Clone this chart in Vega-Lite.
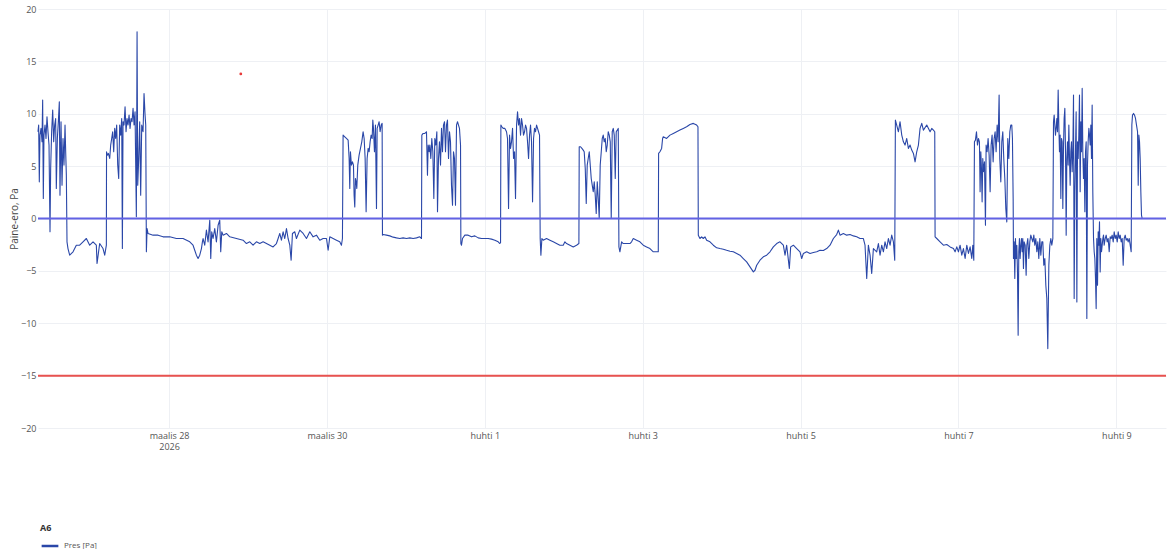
{
  "$schema": "https://vega.github.io/schema/vega-lite/v6.json",
  "width": 1128,
  "height": 419,
  "autosize": {"type": "none"},
  "padding": {"left": 38, "top": 9, "right": 7, "bottom": 121},
  "background": "white",
  "config": {
    "view": {"stroke": null},
    "font": "Open Sans"
  },
  "layer": [
    {
      "data": {"values": [
        {"t":"2026-03-26T08:10Z","v":8.28},{"t":"2026-03-26T08:22Z","v":8.92},{"t":"2026-03-26T08:34Z","v":3.5},{"t":"2026-03-26T08:46Z","v":7.96},{"t":"2026-03-26T09:05Z","v":8.6},{"t":"2026-03-26T09:23Z","v":7.32},{"t":"2026-03-26T09:35Z","v":11.31},{"t":"2026-03-26T09:47Z","v":1.91},{"t":"2026-03-26T09:59Z","v":7.96},{"t":"2026-03-26T10:18Z","v":8.92},{"t":"2026-03-26T10:36Z","v":7.64},{"t":"2026-03-26T10:54Z","v":9.71},{"t":"2026-03-26T11:12Z","v":8.28},{"t":"2026-03-26T11:31Z","v":7.01},{"t":"2026-03-26T11:49Z","v":-1.27},{"t":"2026-03-26T12:01Z","v":4.78},{"t":"2026-03-26T12:19Z","v":8.28},{"t":"2026-03-26T12:38Z","v":10.35},{"t":"2026-03-26T12:56Z","v":7.32},{"t":"2026-03-26T13:14Z","v":8.92},{"t":"2026-03-26T13:32Z","v":9.55},{"t":"2026-03-26T13:44Z","v":2.87},{"t":"2026-03-26T14:03Z","v":7.64},{"t":"2026-03-26T14:21Z","v":9.24},{"t":"2026-03-26T14:39Z","v":11.15},{"t":"2026-03-26T14:51Z","v":2.23},{"t":"2026-03-26T15:10Z","v":9.24},{"t":"2026-03-26T15:28Z","v":3.18},{"t":"2026-03-26T15:46Z","v":7.64},{"t":"2026-03-26T16:04Z","v":5.1},{"t":"2026-03-26T16:23Z","v":8.92},{"t":"2026-03-26T16:35Z","v":6.37},{"t":"2026-03-26T16:47Z","v":4.14},{"t":"2026-03-26T16:59Z","v":-2.23},
        {"t":"2026-03-26T17:17Z","v":-2.87},{"t":"2026-03-26T17:48Z","v":-3.5},{"t":"2026-03-26T18:49Z","v":-3.18},{"t":"2026-03-26T19:49Z","v":-2.55},{"t":"2026-03-26T20:50Z","v":-2.55},{"t":"2026-03-26T21:51Z","v":-2.23},{"t":"2026-03-26T22:52Z","v":-1.91},{"t":"2026-03-26T23:53Z","v":-2.55},{"t":"2026-03-27T00:54Z","v":-2.23},{"t":"2026-03-27T01:54Z","v":-2.55},{"t":"2026-03-27T02:07Z","v":-4.3},{"t":"2026-03-27T02:55Z","v":-2.39},{"t":"2026-03-27T03:56Z","v":-2.87},{"t":"2026-03-27T04:27Z","v":-3.5},{"t":"2026-03-27T04:57Z","v":-2.55},
        {"t":"2026-03-27T05:00Z","v":6.37},{"t":"2026-03-27T05:15Z","v":6.05},{"t":"2026-03-27T05:33Z","v":6.21},{"t":"2026-03-27T05:58Z","v":5.73},{"t":"2026-03-27T06:16Z","v":7.01},{"t":"2026-03-27T06:34Z","v":7.64},{"t":"2026-03-27T06:52Z","v":8.28},{"t":"2026-03-27T07:11Z","v":6.37},{"t":"2026-03-27T07:29Z","v":8.6},{"t":"2026-03-27T07:47Z","v":7.64},{"t":"2026-03-27T08:05Z","v":8.92},{"t":"2026-03-27T08:24Z","v":5.1},{"t":"2026-03-27T08:42Z","v":3.82},{"t":"2026-03-27T09:00Z","v":8.92},{"t":"2026-03-27T09:18Z","v":7.96},{"t":"2026-03-27T09:37Z","v":9.55},{"t":"2026-03-27T09:49Z","v":-2.87},{"t":"2026-03-27T10:01Z","v":9.24},{"t":"2026-03-27T10:19Z","v":8.92},{"t":"2026-03-27T10:38Z","v":10.67},{"t":"2026-03-27T10:56Z","v":8.28},{"t":"2026-03-27T11:14Z","v":9.55},{"t":"2026-03-27T11:32Z","v":8.92},{"t":"2026-03-27T11:51Z","v":9.87},{"t":"2026-03-27T12:09Z","v":8.6},{"t":"2026-03-27T12:27Z","v":9.55},{"t":"2026-03-27T12:45Z","v":9.24},{"t":"2026-03-27T13:04Z","v":10.51},{"t":"2026-03-27T13:22Z","v":8.92},{"t":"2026-03-27T13:40Z","v":10.19},{"t":"2026-03-27T14:04Z","v":0.16},{"t":"2026-03-27T14:17Z","v":17.83},{"t":"2026-03-27T14:29Z","v":3.18},{"t":"2026-03-27T14:47Z","v":5.73},{"t":"2026-03-27T15:05Z","v":9.24},{"t":"2026-03-27T15:23Z","v":2.23},{"t":"2026-03-27T15:42Z","v":8.92},{"t":"2026-03-27T16:06Z","v":8.28},{"t":"2026-03-27T16:24Z","v":11.94},{"t":"2026-03-27T16:43Z","v":9.87},{"t":"2026-03-27T16:55Z","v":8.92},
        {"t":"2026-03-27T17:07Z","v":-3.18},{"t":"2026-03-27T17:20Z","v":-0.96},{"t":"2026-03-27T17:37Z","v":-1.43},{"t":"2026-03-27T19:09Z","v":-1.59},{"t":"2026-03-27T20:40Z","v":-1.59},{"t":"2026-03-27T22:11Z","v":-1.75},{"t":"2026-03-28T00:13Z","v":-1.75},{"t":"2026-03-28T02:14Z","v":-1.91},{"t":"2026-03-28T04:16Z","v":-1.91},{"t":"2026-03-28T06:18Z","v":-2.23},{"t":"2026-03-28T07:18Z","v":-2.55},{"t":"2026-03-28T07:49Z","v":-3.03},{"t":"2026-03-28T08:19Z","v":-3.5},{"t":"2026-03-28T08:50Z","v":-3.82},{"t":"2026-03-28T09:20Z","v":-3.5},{"t":"2026-03-28T09:51Z","v":-2.87},{"t":"2026-03-28T10:09Z","v":-2.23},{"t":"2026-03-28T10:21Z","v":-1.91},{"t":"2026-03-28T10:51Z","v":-2.55},{"t":"2026-03-28T11:22Z","v":-1.11},{"t":"2026-03-28T11:52Z","v":-2.23},{"t":"2026-03-28T12:23Z","v":-0.16},{"t":"2026-03-28T12:41Z","v":-3.82},{"t":"2026-03-28T12:59Z","v":-1.27},{"t":"2026-03-28T13:23Z","v":-1.91},{"t":"2026-03-28T13:54Z","v":-0.96},{"t":"2026-03-28T14:24Z","v":-2.23},{"t":"2026-03-28T14:55Z","v":-0.64},{"t":"2026-03-28T15:25Z","v":-0.16},{"t":"2026-03-28T15:43Z","v":-3.18},{"t":"2026-03-28T16:02Z","v":-1.27},{"t":"2026-03-28T16:26Z","v":-1.59},{"t":"2026-03-28T17:27Z","v":-1.43},{"t":"2026-03-28T18:28Z","v":-1.75},{"t":"2026-03-28T20:29Z","v":-1.91},{"t":"2026-03-28T22:31Z","v":-2.07},{"t":"2026-03-28T23:32Z","v":-2.39},{"t":"2026-03-29T00:33Z","v":-2.23},{"t":"2026-03-29T01:33Z","v":-2.55},{"t":"2026-03-29T02:34Z","v":-2.23},{"t":"2026-03-29T03:35Z","v":-2.39},{"t":"2026-03-29T04:36Z","v":-2.23},{"t":"2026-03-29T05:37Z","v":-2.39},{"t":"2026-03-29T06:38Z","v":-2.55},{"t":"2026-03-29T07:38Z","v":-2.71},{"t":"2026-03-29T08:39Z","v":-2.39},{"t":"2026-03-29T09:10Z","v":-1.91},{"t":"2026-03-29T09:40Z","v":-1.43},{"t":"2026-03-29T10:10Z","v":-2.07},{"t":"2026-03-29T10:41Z","v":-1.27},{"t":"2026-03-29T11:11Z","v":-1.91},{"t":"2026-03-29T11:42Z","v":-0.96},{"t":"2026-03-29T12:12Z","v":-1.91},{"t":"2026-03-29T12:43Z","v":-2.55},{"t":"2026-03-29T13:07Z","v":-3.98},{"t":"2026-03-29T13:31Z","v":-1.43},{"t":"2026-03-29T14:14Z","v":-1.27},{"t":"2026-03-29T14:44Z","v":-1.91},{"t":"2026-03-29T15:45Z","v":-1.11},{"t":"2026-03-29T16:46Z","v":-1.43},{"t":"2026-03-29T17:47Z","v":-1.91},{"t":"2026-03-29T18:48Z","v":-1.27},{"t":"2026-03-29T19:48Z","v":-1.75},{"t":"2026-03-29T20:49Z","v":-1.59},{"t":"2026-03-29T21:50Z","v":-2.07},{"t":"2026-03-29T22:51Z","v":-1.91},{"t":"2026-03-29T23:52Z","v":-1.91},{"t":"2026-03-30T00:22Z","v":-3.03},{"t":"2026-03-30T00:52Z","v":-1.75},{"t":"2026-03-30T01:53Z","v":-1.91},{"t":"2026-03-30T02:54Z","v":-2.07},{"t":"2026-03-30T03:54Z","v":-2.23},{"t":"2026-03-30T04:25Z","v":-2.55},{"t":"2026-03-30T04:43Z","v":-1.91},
        {"t":"2026-03-30T04:55Z","v":7.96},{"t":"2026-03-30T05:26Z","v":7.8},{"t":"2026-03-30T05:56Z","v":7.64},{"t":"2026-03-30T06:27Z","v":7.48},{"t":"2026-03-30T06:45Z","v":5.73},{"t":"2026-03-30T06:57Z","v":2.87},{"t":"2026-03-30T07:09Z","v":6.37},{"t":"2026-03-30T07:27Z","v":5.1},{"t":"2026-03-30T07:46Z","v":5.41},{"t":"2026-03-30T08:04Z","v":5.1},{"t":"2026-03-30T08:16Z","v":2.23},{"t":"2026-03-30T08:28Z","v":1.11},{"t":"2026-03-30T08:40Z","v":3.82},{"t":"2026-03-30T08:53Z","v":3.5},{"t":"2026-03-30T09:05Z","v":2.87},{"t":"2026-03-30T09:23Z","v":5.1},{"t":"2026-03-30T09:47Z","v":6.05},{"t":"2026-03-30T10:12Z","v":6.69},{"t":"2026-03-30T10:36Z","v":7.32},{"t":"2026-03-30T11:00Z","v":8.28},{"t":"2026-03-30T11:19Z","v":7.64},{"t":"2026-03-30T11:37Z","v":5.73},{"t":"2026-03-30T11:55Z","v":0.64},{"t":"2026-03-30T12:13Z","v":5.73},{"t":"2026-03-30T12:32Z","v":6.69},{"t":"2026-03-30T12:50Z","v":6.37},{"t":"2026-03-30T13:08Z","v":7.32},{"t":"2026-03-30T13:26Z","v":7.96},{"t":"2026-03-30T13:45Z","v":7.64},{"t":"2026-03-30T13:57Z","v":9.39},{"t":"2026-03-30T14:09Z","v":8.6},{"t":"2026-03-30T14:27Z","v":6.37},{"t":"2026-03-30T14:45Z","v":8.92},{"t":"2026-03-30T15:04Z","v":0.96},{"t":"2026-03-30T15:16Z","v":8.6},{"t":"2026-03-30T15:34Z","v":8.92},{"t":"2026-03-30T15:52Z","v":9.24},{"t":"2026-03-30T16:10Z","v":8.28},{"t":"2026-03-30T16:29Z","v":8.92},{"t":"2026-03-30T16:47Z","v":9.08},
        {"t":"2026-03-30T16:53Z","v":-1.59},{"t":"2026-03-30T17:05Z","v":-1.53},{"t":"2026-03-30T18:06Z","v":-1.59},{"t":"2026-03-30T19:07Z","v":-1.66},{"t":"2026-03-30T20:08Z","v":-1.78},{"t":"2026-03-30T21:09Z","v":-1.85},{"t":"2026-03-30T22:09Z","v":-1.91},{"t":"2026-03-30T23:10Z","v":-1.85},{"t":"2026-03-31T00:11Z","v":-1.91},{"t":"2026-03-31T01:12Z","v":-1.85},{"t":"2026-03-31T02:13Z","v":-1.91},{"t":"2026-03-31T03:14Z","v":-1.85},{"t":"2026-03-31T04:14Z","v":-1.75},{"t":"2026-03-31T04:45Z","v":-1.91},
        {"t":"2026-03-31T04:51Z","v":7.96},{"t":"2026-03-31T05:15Z","v":8.12},{"t":"2026-03-31T05:46Z","v":8.12},{"t":"2026-03-31T06:16Z","v":8.28},{"t":"2026-03-31T06:34Z","v":4.14},{"t":"2026-03-31T06:47Z","v":7.01},{"t":"2026-03-31T07:05Z","v":6.37},{"t":"2026-03-31T07:17Z","v":7.01},{"t":"2026-03-31T07:35Z","v":5.73},{"t":"2026-03-31T07:53Z","v":7.64},{"t":"2026-03-31T08:12Z","v":6.37},{"t":"2026-03-31T08:30Z","v":1.91},{"t":"2026-03-31T08:48Z","v":7.64},{"t":"2026-03-31T09:06Z","v":7.01},{"t":"2026-03-31T09:25Z","v":8.28},{"t":"2026-03-31T09:37Z","v":0.64},{"t":"2026-03-31T09:55Z","v":5.73},{"t":"2026-03-31T10:13Z","v":7.32},{"t":"2026-03-31T10:32Z","v":5.1},{"t":"2026-03-31T10:50Z","v":8.6},{"t":"2026-03-31T11:08Z","v":6.37},{"t":"2026-03-31T11:26Z","v":8.92},{"t":"2026-03-31T11:45Z","v":9.24},{"t":"2026-03-31T12:03Z","v":6.37},{"t":"2026-03-31T12:21Z","v":8.92},{"t":"2026-03-31T12:39Z","v":9.39},{"t":"2026-03-31T12:58Z","v":5.73},{"t":"2026-03-31T13:16Z","v":8.28},{"t":"2026-03-31T13:34Z","v":7.32},{"t":"2026-03-31T13:52Z","v":3.18},{"t":"2026-03-31T14:11Z","v":1.27},{"t":"2026-03-31T14:29Z","v":6.37},{"t":"2026-03-31T14:47Z","v":5.73},{"t":"2026-03-31T15:05Z","v":1.27},{"t":"2026-03-31T15:24Z","v":8.92},{"t":"2026-03-31T15:42Z","v":9.24},{"t":"2026-03-31T16:00Z","v":8.92},{"t":"2026-03-31T16:18Z","v":8.6},{"t":"2026-03-31T16:37Z","v":7.01},
        {"t":"2026-03-31T16:43Z","v":-2.39},{"t":"2026-03-31T16:55Z","v":-2.55},{"t":"2026-03-31T17:13Z","v":-1.91},{"t":"2026-03-31T17:56Z","v":-1.59},{"t":"2026-03-31T18:56Z","v":-1.59},{"t":"2026-03-31T19:57Z","v":-1.75},{"t":"2026-03-31T20:58Z","v":-1.66},{"t":"2026-03-31T21:59Z","v":-1.85},{"t":"2026-03-31T23:00Z","v":-1.91},{"t":"2026-04-01T00:01Z","v":-1.91},{"t":"2026-04-01T01:01Z","v":-1.91},{"t":"2026-04-01T02:02Z","v":-1.97},{"t":"2026-04-01T03:03Z","v":-2.07},{"t":"2026-04-01T04:04Z","v":-2.23},{"t":"2026-04-01T04:34Z","v":-2.39},{"t":"2026-04-01T04:47Z","v":-2.29},
        {"t":"2026-04-01T04:53Z","v":8.92},{"t":"2026-04-01T05:11Z","v":8.76},{"t":"2026-04-01T05:35Z","v":8.6},{"t":"2026-04-01T06:06Z","v":8.6},{"t":"2026-04-01T06:36Z","v":8.28},{"t":"2026-04-01T06:54Z","v":7.64},{"t":"2026-04-01T07:13Z","v":0.96},{"t":"2026-04-01T07:31Z","v":7.96},{"t":"2026-04-01T07:49Z","v":6.69},{"t":"2026-04-01T08:07Z","v":7.32},{"t":"2026-04-01T08:26Z","v":8.6},{"t":"2026-04-01T08:44Z","v":5.73},{"t":"2026-04-01T09:02Z","v":6.37},{"t":"2026-04-01T09:20Z","v":1.91},{"t":"2026-04-01T09:39Z","v":8.92},{"t":"2026-04-01T09:57Z","v":10.19},{"t":"2026-04-01T10:15Z","v":8.92},{"t":"2026-04-01T10:33Z","v":9.55},{"t":"2026-04-01T10:52Z","v":7.96},{"t":"2026-04-01T11:10Z","v":9.55},{"t":"2026-04-01T11:28Z","v":8.92},{"t":"2026-04-01T11:46Z","v":7.96},{"t":"2026-04-01T12:05Z","v":8.28},{"t":"2026-04-01T12:23Z","v":8.92},{"t":"2026-04-01T12:41Z","v":8.6},{"t":"2026-04-01T12:59Z","v":7.32},{"t":"2026-04-01T13:18Z","v":5.73},{"t":"2026-04-01T13:36Z","v":7.96},{"t":"2026-04-01T13:54Z","v":8.92},{"t":"2026-04-01T14:12Z","v":7.32},{"t":"2026-04-01T14:31Z","v":1.59},{"t":"2026-04-01T14:49Z","v":7.64},{"t":"2026-04-01T15:07Z","v":8.6},{"t":"2026-04-01T15:25Z","v":8.28},{"t":"2026-04-01T15:44Z","v":8.92},{"t":"2026-04-01T16:02Z","v":8.6},{"t":"2026-04-01T16:20Z","v":8.28},{"t":"2026-04-01T16:38Z","v":7.96},
        {"t":"2026-04-01T16:50Z","v":-1.91},{"t":"2026-04-01T17:03Z","v":-3.5},{"t":"2026-04-01T17:21Z","v":-1.91},{"t":"2026-04-01T17:45Z","v":-2.07},{"t":"2026-04-01T18:46Z","v":-1.91},{"t":"2026-04-01T19:47Z","v":-2.07},{"t":"2026-04-01T20:48Z","v":-2.23},{"t":"2026-04-01T21:48Z","v":-2.39},{"t":"2026-04-01T22:49Z","v":-2.55},{"t":"2026-04-01T23:50Z","v":-2.55},{"t":"2026-04-02T00:21Z","v":-2.23},{"t":"2026-04-02T00:51Z","v":-2.39},{"t":"2026-04-02T01:52Z","v":-2.55},{"t":"2026-04-02T02:53Z","v":-2.71},{"t":"2026-04-02T03:53Z","v":-2.55},{"t":"2026-04-02T04:36Z","v":-2.39},
        {"t":"2026-04-02T04:42Z","v":6.85},{"t":"2026-04-02T05:06Z","v":6.85},{"t":"2026-04-02T05:31Z","v":6.69},{"t":"2026-04-02T05:55Z","v":6.53},{"t":"2026-04-02T06:13Z","v":6.37},{"t":"2026-04-02T06:32Z","v":4.78},{"t":"2026-04-02T06:50Z","v":1.43},{"t":"2026-04-02T07:08Z","v":5.1},{"t":"2026-04-02T07:26Z","v":5.73},{"t":"2026-04-02T07:45Z","v":6.37},{"t":"2026-04-02T08:03Z","v":5.1},{"t":"2026-04-02T08:21Z","v":3.82},{"t":"2026-04-02T08:39Z","v":3.18},{"t":"2026-04-02T08:58Z","v":2.55},{"t":"2026-04-02T09:16Z","v":3.5},{"t":"2026-04-02T09:34Z","v":2.23},{"t":"2026-04-02T09:52Z","v":0.48},{"t":"2026-04-02T10:11Z","v":3.5},{"t":"2026-04-02T10:29Z","v":1.91},{"t":"2026-04-02T10:47Z","v":0.0},{"t":"2026-04-02T11:05Z","v":5.1},{"t":"2026-04-02T11:24Z","v":6.37},{"t":"2026-04-02T11:42Z","v":7.64},{"t":"2026-04-02T12:00Z","v":7.96},{"t":"2026-04-02T12:18Z","v":7.32},{"t":"2026-04-02T12:37Z","v":7.64},{"t":"2026-04-02T12:55Z","v":6.37},{"t":"2026-04-02T13:13Z","v":7.01},{"t":"2026-04-02T13:31Z","v":8.28},{"t":"2026-04-02T13:50Z","v":7.96},{"t":"2026-04-02T14:08Z","v":7.32},{"t":"2026-04-02T14:26Z","v":0.0},{"t":"2026-04-02T14:44Z","v":8.28},{"t":"2026-04-02T15:03Z","v":8.6},{"t":"2026-04-02T15:21Z","v":7.96},{"t":"2026-04-02T15:39Z","v":3.82},{"t":"2026-04-02T15:57Z","v":8.28},{"t":"2026-04-02T16:16Z","v":8.44},{"t":"2026-04-02T16:34Z","v":8.6},
        {"t":"2026-04-02T16:46Z","v":-2.71},{"t":"2026-04-02T17:04Z","v":-3.18},{"t":"2026-04-02T17:35Z","v":-2.23},{"t":"2026-04-02T18:05Z","v":-2.39},{"t":"2026-04-02T19:06Z","v":-2.39},{"t":"2026-04-02T20:07Z","v":-2.39},{"t":"2026-04-02T20:37Z","v":-2.23},{"t":"2026-04-02T21:08Z","v":-1.91},{"t":"2026-04-02T22:09Z","v":-2.07},{"t":"2026-04-02T23:09Z","v":-2.23},{"t":"2026-04-03T00:10Z","v":-2.55},{"t":"2026-04-03T01:11Z","v":-2.71},{"t":"2026-04-03T02:12Z","v":-2.87},{"t":"2026-04-03T03:13Z","v":-3.18},{"t":"2026-04-03T04:14Z","v":-3.18},{"t":"2026-04-03T04:44Z","v":-3.18},
        {"t":"2026-04-03T04:50Z","v":6.21},{"t":"2026-04-03T05:14Z","v":6.37},{"t":"2026-04-03T05:45Z","v":6.69},{"t":"2026-04-03T06:03Z","v":7.64},{"t":"2026-04-03T06:15Z","v":7.8},{"t":"2026-04-03T07:16Z","v":7.64},{"t":"2026-04-03T08:17Z","v":7.96},{"t":"2026-04-03T09:18Z","v":8.12},{"t":"2026-04-03T10:19Z","v":8.28},{"t":"2026-04-03T11:19Z","v":8.44},{"t":"2026-04-03T12:20Z","v":8.6},{"t":"2026-04-03T13:21Z","v":8.76},{"t":"2026-04-03T14:22Z","v":8.98},{"t":"2026-04-03T15:23Z","v":9.08},{"t":"2026-04-03T16:24Z","v":8.92},{"t":"2026-04-03T16:48Z","v":8.76},
        {"t":"2026-04-03T16:54Z","v":-1.59},{"t":"2026-04-03T17:24Z","v":-1.91},{"t":"2026-04-03T17:55Z","v":-1.75},{"t":"2026-04-03T18:25Z","v":-1.91},{"t":"2026-04-03T18:56Z","v":-1.75},{"t":"2026-04-03T19:26Z","v":-2.07},{"t":"2026-04-03T20:27Z","v":-2.23},{"t":"2026-04-03T21:28Z","v":-2.55},{"t":"2026-04-03T22:29Z","v":-2.8},{"t":"2026-04-03T23:29Z","v":-2.87},{"t":"2026-04-04T00:30Z","v":-2.93},{"t":"2026-04-04T01:31Z","v":-3.03},{"t":"2026-04-04T02:32Z","v":-3.12},{"t":"2026-04-04T03:33Z","v":-3.18},{"t":"2026-04-04T04:34Z","v":-3.34},{"t":"2026-04-04T05:34Z","v":-3.5},{"t":"2026-04-04T06:35Z","v":-3.82},{"t":"2026-04-04T07:36Z","v":-4.14},{"t":"2026-04-04T08:37Z","v":-4.62},{"t":"2026-04-04T09:38Z","v":-5.1},{"t":"2026-04-04T10:08Z","v":-4.94},{"t":"2026-04-04T10:39Z","v":-4.46},{"t":"2026-04-04T11:39Z","v":-3.98},{"t":"2026-04-04T12:40Z","v":-3.66},{"t":"2026-04-04T13:41Z","v":-3.5},{"t":"2026-04-04T14:42Z","v":-3.18},{"t":"2026-04-04T15:43Z","v":-2.71},{"t":"2026-04-04T16:44Z","v":-2.39},{"t":"2026-04-04T17:44Z","v":-2.23},{"t":"2026-04-04T18:45Z","v":-2.55},{"t":"2026-04-04T19:16Z","v":-3.5},{"t":"2026-04-04T19:46Z","v":-2.55},{"t":"2026-04-04T20:35Z","v":-4.78},{"t":"2026-04-04T20:59Z","v":-2.71},{"t":"2026-04-04T21:48Z","v":-2.55},{"t":"2026-04-04T22:49Z","v":-2.87},{"t":"2026-04-04T23:49Z","v":-3.18},{"t":"2026-04-05T00:20Z","v":-3.82},{"t":"2026-04-05T00:50Z","v":-3.34},{"t":"2026-04-05T01:51Z","v":-3.18},{"t":"2026-04-05T02:52Z","v":-3.34},{"t":"2026-04-05T03:53Z","v":-3.25},{"t":"2026-04-05T04:54Z","v":-3.18},{"t":"2026-04-05T05:54Z","v":-3.03},{"t":"2026-04-05T06:55Z","v":-3.06},{"t":"2026-04-05T07:56Z","v":-2.87},{"t":"2026-04-05T08:57Z","v":-2.55},{"t":"2026-04-05T09:58Z","v":-1.91},{"t":"2026-04-05T10:58Z","v":-1.53},{"t":"2026-04-05T11:29Z","v":-1.11},{"t":"2026-04-05T11:59Z","v":-1.59},{"t":"2026-04-05T13:00Z","v":-1.43},{"t":"2026-04-05T14:01Z","v":-1.59},{"t":"2026-04-05T15:02Z","v":-1.53},{"t":"2026-04-05T16:03Z","v":-1.66},{"t":"2026-04-05T17:03Z","v":-1.75},{"t":"2026-04-05T18:04Z","v":-1.91},{"t":"2026-04-05T19:05Z","v":-1.91},{"t":"2026-04-05T19:35Z","v":-2.55},{"t":"2026-04-05T20:06Z","v":-5.73},{"t":"2026-04-05T20:36Z","v":-2.55},{"t":"2026-04-05T21:07Z","v":-3.5},{"t":"2026-04-05T21:37Z","v":-5.25},{"t":"2026-04-05T22:08Z","v":-2.87},{"t":"2026-04-05T23:08Z","v":-3.18},{"t":"2026-04-05T23:39Z","v":-2.39},{"t":"2026-04-06T00:09Z","v":-3.5},{"t":"2026-04-06T00:40Z","v":-2.55},{"t":"2026-04-06T01:10Z","v":-3.18},{"t":"2026-04-06T01:40Z","v":-2.23},{"t":"2026-04-06T02:11Z","v":-2.87},{"t":"2026-04-06T02:41Z","v":-1.91},{"t":"2026-04-06T03:12Z","v":-2.55},{"t":"2026-04-06T03:42Z","v":-1.59},{"t":"2026-04-06T04:13Z","v":-2.23},{"t":"2026-04-06T04:37Z","v":-3.98},
        {"t":"2026-04-06T04:49Z","v":9.39},{"t":"2026-04-06T05:13Z","v":8.92},{"t":"2026-04-06T05:44Z","v":8.28},{"t":"2026-04-06T06:14Z","v":9.24},{"t":"2026-04-06T06:45Z","v":7.96},{"t":"2026-04-06T07:15Z","v":7.32},{"t":"2026-04-06T07:45Z","v":7.01},{"t":"2026-04-06T08:16Z","v":7.64},{"t":"2026-04-06T08:46Z","v":6.69},{"t":"2026-04-06T09:17Z","v":7.01},{"t":"2026-04-06T09:47Z","v":6.53},{"t":"2026-04-06T10:18Z","v":6.21},{"t":"2026-04-06T10:48Z","v":5.41},{"t":"2026-04-06T11:18Z","v":6.37},{"t":"2026-04-06T11:49Z","v":7.01},{"t":"2026-04-06T12:19Z","v":8.6},{"t":"2026-04-06T12:50Z","v":9.08},{"t":"2026-04-06T13:20Z","v":8.44},{"t":"2026-04-06T14:21Z","v":8.92},{"t":"2026-04-06T15:22Z","v":8.28},{"t":"2026-04-06T15:52Z","v":8.6},{"t":"2026-04-06T16:23Z","v":8.44},{"t":"2026-04-06T16:47Z","v":8.28},
        {"t":"2026-04-06T16:53Z","v":-1.75},{"t":"2026-04-06T17:24Z","v":-1.91},{"t":"2026-04-06T18:24Z","v":-2.23},{"t":"2026-04-06T19:25Z","v":-2.55},{"t":"2026-04-06T20:26Z","v":-2.48},{"t":"2026-04-06T21:27Z","v":-2.71},{"t":"2026-04-06T22:28Z","v":-2.87},{"t":"2026-04-06T22:58Z","v":-3.18},{"t":"2026-04-06T23:29Z","v":-2.71},{"t":"2026-04-06T23:59Z","v":-3.18},{"t":"2026-04-07T00:29Z","v":-2.55},{"t":"2026-04-07T01:00Z","v":-3.5},{"t":"2026-04-07T01:30Z","v":-2.87},{"t":"2026-04-07T02:01Z","v":-3.82},{"t":"2026-04-07T02:31Z","v":-2.55},{"t":"2026-04-07T03:02Z","v":-3.34},{"t":"2026-04-07T03:32Z","v":-2.71},{"t":"2026-04-07T04:02Z","v":-3.82},{"t":"2026-04-07T04:21Z","v":-2.55},{"t":"2026-04-07T04:39Z","v":-3.98},
        {"t":"2026-04-07T04:51Z","v":7.32},{"t":"2026-04-07T05:09Z","v":7.48},{"t":"2026-04-07T05:28Z","v":8.28},{"t":"2026-04-07T05:46Z","v":7.01},{"t":"2026-04-07T06:04Z","v":7.64},{"t":"2026-04-07T06:22Z","v":7.32},{"t":"2026-04-07T06:34Z","v":2.55},{"t":"2026-04-07T06:47Z","v":6.37},{"t":"2026-04-07T06:59Z","v":4.78},{"t":"2026-04-07T07:11Z","v":1.59},{"t":"2026-04-07T07:23Z","v":5.73},{"t":"2026-04-07T07:35Z","v":4.46},{"t":"2026-04-07T07:54Z","v":5.41},{"t":"2026-04-07T08:12Z","v":-0.64},{"t":"2026-04-07T08:24Z","v":7.01},{"t":"2026-04-07T08:42Z","v":6.37},{"t":"2026-04-07T09:00Z","v":7.64},{"t":"2026-04-07T09:19Z","v":6.05},{"t":"2026-04-07T09:37Z","v":2.55},{"t":"2026-04-07T09:55Z","v":7.01},{"t":"2026-04-07T10:13Z","v":7.96},{"t":"2026-04-07T10:32Z","v":5.41},{"t":"2026-04-07T10:50Z","v":7.64},{"t":"2026-04-07T11:08Z","v":8.28},{"t":"2026-04-07T11:26Z","v":6.37},{"t":"2026-04-07T11:45Z","v":8.92},{"t":"2026-04-07T12:03Z","v":7.32},{"t":"2026-04-07T12:21Z","v":11.78},{"t":"2026-04-07T12:33Z","v":5.73},{"t":"2026-04-07T12:52Z","v":3.5},{"t":"2026-04-07T13:10Z","v":7.32},{"t":"2026-04-07T13:28Z","v":8.28},{"t":"2026-04-07T13:46Z","v":5.73},{"t":"2026-04-07T14:05Z","v":3.82},{"t":"2026-04-07T14:23Z","v":0.96},{"t":"2026-04-07T14:41Z","v":-0.32},{"t":"2026-04-07T14:59Z","v":7.64},{"t":"2026-04-07T15:18Z","v":5.73},{"t":"2026-04-07T15:36Z","v":8.28},{"t":"2026-04-07T15:54Z","v":8.92},{"t":"2026-04-07T16:12Z","v":8.92},{"t":"2026-04-07T16:24Z","v":7.64},{"t":"2026-04-07T16:37Z","v":1.91},
        {"t":"2026-04-07T16:43Z","v":-3.82},{"t":"2026-04-07T16:55Z","v":-2.23},{"t":"2026-04-07T17:07Z","v":-5.73},{"t":"2026-04-07T17:19Z","v":-1.91},{"t":"2026-04-07T17:31Z","v":-3.82},{"t":"2026-04-07T17:44Z","v":-2.55},{"t":"2026-04-07T17:56Z","v":-5.1},{"t":"2026-04-07T18:08Z","v":-11.15},{"t":"2026-04-07T18:20Z","v":-3.18},{"t":"2026-04-07T18:32Z","v":-1.91},{"t":"2026-04-07T18:44Z","v":-3.82},{"t":"2026-04-07T18:57Z","v":-2.55},{"t":"2026-04-07T19:09Z","v":-1.91},{"t":"2026-04-07T19:21Z","v":-3.18},{"t":"2026-04-07T19:33Z","v":-1.91},{"t":"2026-04-07T19:45Z","v":-4.78},{"t":"2026-04-07T19:57Z","v":-2.23},{"t":"2026-04-07T20:16Z","v":-2.55},{"t":"2026-04-07T20:34Z","v":-5.41},{"t":"2026-04-07T20:46Z","v":-2.55},{"t":"2026-04-07T21:04Z","v":-1.91},{"t":"2026-04-07T21:23Z","v":-3.82},{"t":"2026-04-07T21:41Z","v":-2.23},{"t":"2026-04-07T21:59Z","v":-1.59},{"t":"2026-04-07T22:17Z","v":-1.91},{"t":"2026-04-07T22:36Z","v":-2.23},{"t":"2026-04-07T22:54Z","v":-1.59},{"t":"2026-04-07T23:12Z","v":-2.55},{"t":"2026-04-07T23:30Z","v":-1.91},{"t":"2026-04-07T23:49Z","v":-3.18},{"t":"2026-04-08T00:07Z","v":-2.23},{"t":"2026-04-08T00:25Z","v":-3.82},{"t":"2026-04-08T00:43Z","v":-1.91},{"t":"2026-04-08T01:02Z","v":-3.5},{"t":"2026-04-08T01:20Z","v":-2.23},{"t":"2026-04-08T01:38Z","v":-2.23},{"t":"2026-04-08T01:56Z","v":-4.46},{"t":"2026-04-08T02:15Z","v":-3.82},{"t":"2026-04-08T02:33Z","v":-6.37},{"t":"2026-04-08T02:51Z","v":-7.64},{"t":"2026-04-08T03:09Z","v":-12.42},{"t":"2026-04-08T03:28Z","v":-4.46},{"t":"2026-04-08T03:46Z","v":-2.55},{"t":"2026-04-08T04:04Z","v":-1.91},{"t":"2026-04-08T04:22Z","v":-2.55},{"t":"2026-04-08T04:41Z","v":-1.91},
        {"t":"2026-04-08T04:53Z","v":9.24},{"t":"2026-04-08T05:05Z","v":9.87},{"t":"2026-04-08T05:17Z","v":8.92},{"t":"2026-04-08T05:29Z","v":7.96},{"t":"2026-04-08T05:41Z","v":8.6},{"t":"2026-04-08T05:54Z","v":9.55},{"t":"2026-04-08T06:06Z","v":8.28},{"t":"2026-04-08T06:18Z","v":12.26},{"t":"2026-04-08T06:30Z","v":8.92},{"t":"2026-04-08T06:42Z","v":6.37},{"t":"2026-04-08T06:54Z","v":7.96},{"t":"2026-04-08T07:07Z","v":1.91},{"t":"2026-04-08T07:19Z","v":7.64},{"t":"2026-04-08T07:31Z","v":7.32},{"t":"2026-04-08T07:43Z","v":0.96},{"t":"2026-04-08T07:55Z","v":6.69},{"t":"2026-04-08T08:07Z","v":9.55},{"t":"2026-04-08T08:20Z","v":10.51},{"t":"2026-04-08T08:32Z","v":6.37},{"t":"2026-04-08T08:44Z","v":-1.59},{"t":"2026-04-08T08:56Z","v":5.73},{"t":"2026-04-08T09:08Z","v":7.32},{"t":"2026-04-08T09:20Z","v":5.1},{"t":"2026-04-08T09:33Z","v":8.92},{"t":"2026-04-08T09:45Z","v":5.73},{"t":"2026-04-08T09:57Z","v":3.18},{"t":"2026-04-08T10:09Z","v":6.37},{"t":"2026-04-08T10:21Z","v":7.32},{"t":"2026-04-08T10:33Z","v":4.46},{"t":"2026-04-08T10:46Z","v":6.37},{"t":"2026-04-08T10:58Z","v":11.78},{"t":"2026-04-08T11:10Z","v":-7.64},{"t":"2026-04-08T11:22Z","v":2.55},{"t":"2026-04-08T11:34Z","v":6.37},{"t":"2026-04-08T11:46Z","v":10.19},{"t":"2026-04-08T11:59Z","v":-7.96},{"t":"2026-04-08T12:11Z","v":7.32},{"t":"2026-04-08T12:23Z","v":5.73},{"t":"2026-04-08T12:35Z","v":7.96},{"t":"2026-04-08T12:47Z","v":11.78},{"t":"2026-04-08T12:59Z","v":2.55},{"t":"2026-04-08T13:12Z","v":9.24},{"t":"2026-04-08T13:24Z","v":6.37},{"t":"2026-04-08T13:36Z","v":12.42},{"t":"2026-04-08T13:48Z","v":6.37},{"t":"2026-04-08T14:00Z","v":3.82},{"t":"2026-04-08T14:12Z","v":5.73},{"t":"2026-04-08T14:25Z","v":0.64},{"t":"2026-04-08T14:37Z","v":6.37},{"t":"2026-04-08T14:49Z","v":7.32},{"t":"2026-04-08T15:01Z","v":-9.55},{"t":"2026-04-08T15:13Z","v":5.1},{"t":"2026-04-08T15:25Z","v":7.32},{"t":"2026-04-08T15:38Z","v":8.6},{"t":"2026-04-08T15:50Z","v":7.96},{"t":"2026-04-08T16:02Z","v":7.01},{"t":"2026-04-08T16:14Z","v":8.92},{"t":"2026-04-08T16:26Z","v":5.73},{"t":"2026-04-08T16:38Z","v":10.83},{"t":"2026-04-08T16:50Z","v":2.55},
        {"t":"2026-04-08T17:03Z","v":-1.91},{"t":"2026-04-08T17:15Z","v":-3.18},{"t":"2026-04-08T17:27Z","v":-3.82},{"t":"2026-04-08T17:39Z","v":-5.73},{"t":"2026-04-08T17:51Z","v":-8.6},{"t":"2026-04-08T18:03Z","v":-1.91},{"t":"2026-04-08T18:16Z","v":-6.37},{"t":"2026-04-08T18:28Z","v":-1.27},{"t":"2026-04-08T18:40Z","v":-2.55},{"t":"2026-04-08T18:52Z","v":-0.32},{"t":"2026-04-08T19:04Z","v":-5.1},{"t":"2026-04-08T19:16Z","v":-1.91},{"t":"2026-04-08T19:29Z","v":-3.18},{"t":"2026-04-08T19:41Z","v":-2.55},{"t":"2026-04-08T19:53Z","v":-1.91},{"t":"2026-04-08T20:05Z","v":-1.59},{"t":"2026-04-08T20:17Z","v":-2.55},{"t":"2026-04-08T20:36Z","v":-1.91},{"t":"2026-04-08T20:54Z","v":-1.59},{"t":"2026-04-08T21:12Z","v":-2.23},{"t":"2026-04-08T21:30Z","v":-1.91},{"t":"2026-04-08T21:49Z","v":-3.18},{"t":"2026-04-08T22:07Z","v":-1.75},{"t":"2026-04-08T22:25Z","v":-1.91},{"t":"2026-04-08T22:43Z","v":-1.59},{"t":"2026-04-08T23:02Z","v":-2.23},{"t":"2026-04-08T23:20Z","v":-1.27},{"t":"2026-04-08T23:38Z","v":-1.91},{"t":"2026-04-08T23:56Z","v":-1.59},{"t":"2026-04-09T00:15Z","v":-2.23},{"t":"2026-04-09T00:33Z","v":-1.27},{"t":"2026-04-09T00:51Z","v":-1.91},{"t":"2026-04-09T01:09Z","v":-1.59},{"t":"2026-04-09T01:28Z","v":-2.23},{"t":"2026-04-09T01:46Z","v":-1.91},{"t":"2026-04-09T02:04Z","v":-4.46},{"t":"2026-04-09T02:22Z","v":-1.91},{"t":"2026-04-09T02:41Z","v":-1.59},{"t":"2026-04-09T02:59Z","v":-2.07},{"t":"2026-04-09T03:17Z","v":-1.91},{"t":"2026-04-09T03:35Z","v":-2.23},{"t":"2026-04-09T03:54Z","v":-1.91},{"t":"2026-04-09T04:12Z","v":-2.55},{"t":"2026-04-09T04:30Z","v":-3.18},
        {"t":"2026-04-09T04:42Z","v":8.92},{"t":"2026-04-09T04:54Z","v":9.87},{"t":"2026-04-09T05:13Z","v":10.03},{"t":"2026-04-09T05:31Z","v":9.87},{"t":"2026-04-09T05:49Z","v":9.55},{"t":"2026-04-09T06:07Z","v":8.92},{"t":"2026-04-09T06:26Z","v":8.28},{"t":"2026-04-09T06:38Z","v":3.18},{"t":"2026-04-09T06:50Z","v":7.96},{"t":"2026-04-09T07:02Z","v":7.32},{"t":"2026-04-09T07:14Z","v":5.73},{"t":"2026-04-09T07:26Z","v":2.55},{"t":"2026-04-09T07:38Z","v":0.32},{"t":"2026-04-09T07:50Z","v":0.0}
      ]},
      "mark": {"type": "line", "strokeWidth": 1.1, "strokeJoin": "round"},
      "encoding": {
        "x": {
          "field": "t",
          "type": "temporal",
          "scale": {
            "type": "utc",
            "domain": [
              {"year": 2026, "month": 3, "date": 26, "hours": 8, "minutes": 10, "utc": true},
              {"year": 2026, "month": 4, "date": 9, "hours": 15, "minutes": 5, "utc": true}
            ]
          },
          "axis": {
            "title": null,
            "domain": false,
            "ticks": false,
            "grid": true,
            "gridColor": "#eef0f4",
            "gridWidth": 1,
            "values": [
              {"year": 2026, "month": 3, "date": 28, "utc": true},
              {"year": 2026, "month": 3, "date": 30, "utc": true},
              {"year": 2026, "month": 4, "date": 1, "utc": true},
              {"year": 2026, "month": 4, "date": 3, "utc": true},
              {"year": 2026, "month": 4, "date": 5, "utc": true},
              {"year": 2026, "month": 4, "date": 7, "utc": true},
              {"year": 2026, "month": 4, "date": 9, "utc": true}
            ],
            "labelExpr": "(utcmonth(datum.value) == 2 && utcdate(datum.value) == 28) ? ['maalis 28', '2026'] : ((utcmonth(datum.value) == 2 ? 'maalis ' : 'huhti ') + utcdate(datum.value))",
            "labelFont": "Open Sans",
            "labelFontSize": 9,
            "labelColor": "#555555",
            "labelPadding": 3,
            "labelLineHeight": 11,
            "labelFlush": false,
            "labelOverlap": false
          }
        },
        "y": {
          "field": "v",
          "type": "quantitative",
          "scale": {"domain": [-20, 20], "nice": false, "zero": false},
          "axis": {
            "title": "Paine-ero, Pa",
            "titleFont": "Open Sans",
            "titleFontSize": 10,
            "titleFontWeight": "normal",
            "titleColor": "#444444",
            "titlePadding": 1,
            "domain": false,
            "ticks": false,
            "grid": true,
            "gridColor": "#eef0f4",
            "gridWidth": 1,
            "values": [-20, -15, -10, -5, 0, 5, 10, 15, 20],
            "labelFont": "Open Sans",
            "labelFontSize": 9,
            "labelColor": "#555555",
            "labelPadding": 2,
            "labelFlush": false
          }
        },
        "color": {
          "datum": "Pres [Pa]",
          "scale": {"range": ["#2a47a8"]},
          "legend": {
            "title": "A6",
            "orient": "none",
            "legendX": 2,
            "legendY": 515,
            "titleFont": "Open Sans",
            "titleFontSize": 9,
            "titleFontWeight": "bold",
            "titleColor": "#333333",
            "titlePadding": 3,
            "labelFont": "Open Sans",
            "labelFontSize": 8,
            "labelColor": "#555555",
            "symbolType": "stroke",
            "symbolStrokeWidth": 2.5,
            "symbolSize": 280
          }
        }
      }
    },
    {
      "data": {"values": [{}]},
      "mark": {"type": "rule", "color": "#6262e4", "strokeWidth": 2},
      "encoding": {"y": {"datum": 0}}
    },
    {
      "data": {"values": [{}]},
      "mark": {"type": "rule", "color": "#e8524f", "strokeWidth": 2},
      "encoding": {"y": {"datum": -15}}
    },
    {
      "data": {"values": [{"t": "2026-03-28T21:49Z", "v": 13.8}]},
      "mark": {"type": "point", "filled": true, "size": 8, "color": "#e83a3a", "opacity": 1},
      "encoding": {
        "x": {"field": "t", "type": "temporal"},
        "y": {"field": "v", "type": "quantitative"}
      }
    }
  ]
}
